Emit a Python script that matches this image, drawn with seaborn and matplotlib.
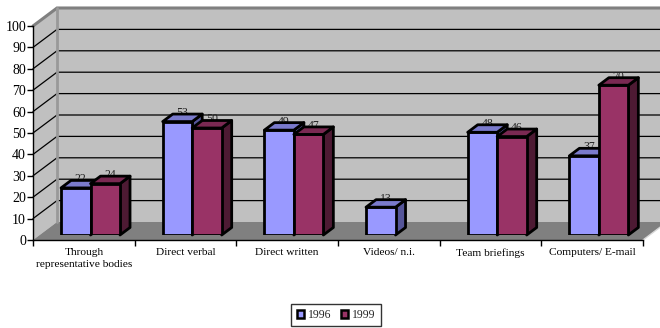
import pandas as pd
import matplotlib
matplotlib.use("Agg")
import matplotlib.pyplot as plt
from matplotlib.patches import Polygon, Patch
from matplotlib.lines import Line2D
import seaborn as sns

# ---- data -------------------------------------------------------------
categories = ["Through\nrepresentative bodies", "Direct verbal", "Direct written",
              "Videos/ n.i.", "Team briefings", "Computers/ E-mail"]
years = ["1996", "1999"]
values_1996 = [22, 53, 49, 13, 48, 37]
values_1999 = [24, 50, 47, None, 46, 70]
y_ticks = list(range(0, 101, 10))

colors = {"1996": "#9999FF", "1999": "#993366"}
top_colors = {"1996": "#7A7ACC", "1999": "#7A2952"}
side_colors = {"1996": "#555599", "1999": "#4D1A33"}

rows = []
for cat, v96, v99 in zip(categories, values_1996, values_1999):
    for yr, v in zip(years, (v96, v99)):
        if v is not None:
            rows.append({"category": cat, "year": yr, "value": v})
df = pd.DataFrame(rows)

sns.set_theme(style="white")
plt.rcParams["font.family"] = ["Liberation Serif", "DejaVu Serif"]

# ---- layout (pixels) --------------------------------------------------
W, H = 660, 328
X0, X1 = 33, 643        # front plane horizontal extent
Y0, Y100 = 240, 26      # front plane height of 0 and 100
BX, BY = 6.7, 5.0       # shift of the bar plane behind the front plane
WX, WY = 24.0, 18.0     # shift of the back wall behind the front plane
DX, DY = 10.0, 7.5      # bar depth

fig = plt.figure(figsize=(W / 100, H / 100), dpi=100)
fig.patch.set_facecolor("white")

ax = fig.add_axes([(X0 + BX) / W, (H - (Y0 - BY)) / H,
                   (X1 - X0) / W, (Y0 - Y100) / H])

sns.barplot(data=df, x="category", y="value", hue="year",
            order=categories, hue_order=years, palette=colors,
            width=0.58, saturation=1, edgecolor="black", linewidth=2.0,
            errorbar=None, legend=False, ax=ax)
ax.set_xlim(-0.5, 5.5)
ax.set_ylim(0, 100)
ax.axis("off")

bars = []
for yr, cont in zip(years, ax.containers):
    for p in cont.patches:
        if p.get_height() == p.get_height():   # skip empty slots
            bars.append((yr, p))
bars.sort(key=lambda t: t[1].get_x())

# pixel offsets converted to data units
ux = (X1 - X0) / 6.0
uy = (Y0 - Y100) / 100.0
fx, fy = -BX / ux, -BY / uy
bx, by = (WX - BX) / ux, (WY - BY) / uy
dx, dy = DX / ux, DY / uy
xl, xr = -0.5, 5.5

# walls and floor
ax.add_patch(Polygon([(xl + bx, by), (xr + bx, by), (xr + bx, 100 + by), (xl + bx, 100 + by)],
                     closed=True, facecolor="#C0C0C0", edgecolor="none", zorder=0.2, clip_on=False))
ax.add_patch(Polygon([(xl + fx, fy), (xl + bx, by), (xl + bx, 100 + by), (xl + fx, 100 + fy)],
                     closed=True, facecolor="#C0C0C0", edgecolor="none", zorder=0.2, clip_on=False))
ax.add_patch(Polygon([(xl + fx, fy), (xr + fx, fy), (xr + bx, by), (xl + bx, by)],
                     closed=True, facecolor="#808080", edgecolor="none", zorder=0.3, clip_on=False))
ax.add_line(Line2D([xr + fx, xr + bx], [fy, by], color="#D8D8D8", lw=1.0, zorder=0.35, clip_on=False))

for v in y_ticks[1:-1]:
    ax.add_line(Line2D([xl + fx, xl + bx, xr + bx], [v + fy, v + by, v + by],
                       color="black", lw=0.9, zorder=0.4, clip_on=False))
ax.add_line(Line2D([xl + fx, xl + bx, xr + bx], [100 + fy, 100 + by, 100 + by],
                   color="#808080", lw=2.2, zorder=0.45, clip_on=False, solid_joinstyle="miter"))
ax.add_line(Line2D([xl + bx, xl + bx], [by, 100 + by],
                   color="#999999", lw=2.0, zorder=0.45, clip_on=False))

# bar depth faces and value labels
for i, (yr, p) in enumerate(bars):
    x, w, h = p.get_x(), p.get_width(), p.get_height()
    z = 2 + i * 0.1
    side = Polygon([(x + w, 0), (x + w + dx, dy), (x + w + dx, h + dy), (x + w, h)],
                   closed=True, facecolor=side_colors[yr], edgecolor="black",
                   lw=2.0, joinstyle="round", zorder=z, clip_on=False)
    top = Polygon([(x, h), (x + w, h), (x + w + dx, h + dy), (x + dx, h + dy)],
                  closed=True, facecolor=top_colors[yr], edgecolor="black",
                  lw=2.0, joinstyle="round", zorder=z + 0.04, clip_on=False)
    ax.add_patch(side)
    ax.add_patch(top)
    p.set_zorder(z + 0.02)
    p.set_joinstyle("round")
    ax.text(x + w / 2 + dx * 0.5, h + dy * 1.15, f"{h:.0f}", ha="center", va="center",
            fontsize=8.5, color="#222222", zorder=z + 0.03)

# front axes carrying the tick marks and labels
ax2 = fig.add_axes([X0 / W, (H - Y0) / H, (X1 - X0) / W, (Y0 - Y100) / H])
ax2.patch.set_alpha(0)
ax2.set_xlim(-0.5, 5.5)
ax2.set_ylim(0, 100)
for s in ("top", "right"):
    ax2.spines[s].set_visible(False)
for s in ("left", "bottom"):
    ax2.spines[s].set_color("black")
    ax2.spines[s].set_linewidth(1.0)
ax2.set_yticks(y_ticks)
ax2.set_yticklabels([str(t) for t in y_ticks])
ax2.set_xticks([i - 0.5 for i in range(7)])
ax2.set_xticklabels([])
ax2.set_xticks(range(6), minor=True)
ax2.set_xticklabels(categories, minor=True, linespacing=1.45)
ax2.tick_params(axis="y", left=True, length=4, width=1, color="black",
                direction="out", labelsize=10, pad=1, labelcolor="black")
ax2.tick_params(axis="x", which="major", bottom=True, length=4, width=1,
                color="black", direction="out")
ax2.tick_params(axis="x", which="minor", bottom=True, length=0, labelsize=8.2,
                pad=6, labelcolor="black")

# legend
handles = [Patch(facecolor=colors[y], edgecolor="black", linewidth=1.8, label=y) for y in years]
leg = fig.legend(handles=handles, loc="center", bbox_to_anchor=(336 / W, 1 - 315 / H),
                 ncol=2, frameon=True, fancybox=False, edgecolor="black", fontsize=8.5,
                 handlelength=0.65, handleheight=0.65, handletextpad=0.3,
                 columnspacing=0.8, borderpad=0.45)
leg.get_frame().set_linewidth(1.0)

fig.savefig("out.png", dpi=100)
